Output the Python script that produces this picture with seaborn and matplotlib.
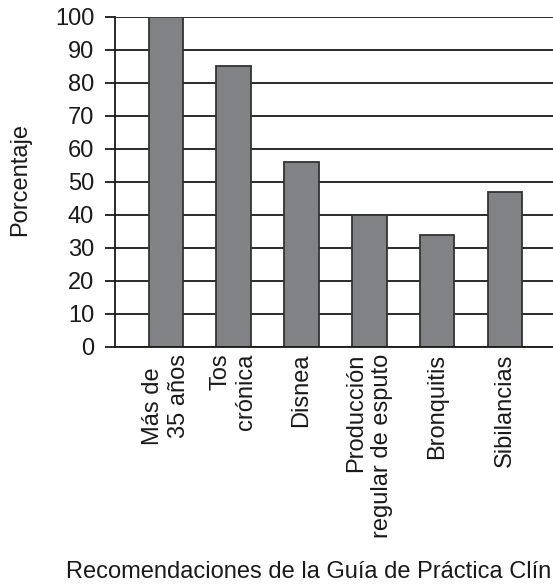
import pandas as pd
import seaborn as sns
import matplotlib.pyplot as plt

categories = ["Más de  \n35 años", "Tos\ncrónica", "Disnea",
              "Producción\nregular de esputo", "Bronquitis", "Sibilancias"]
porcentaje = [100, 85, 56, 40, 34, 47]
y_ticks = list(range(0, 101, 10))
# the source caption is cropped at the right edge of the figure
caption = 'Recomendaciones de la Guía de Práctica Clín'

sns.set_theme(style="white")
plt.rcParams['font.family'] = ['Liberation Sans', 'DejaVu Sans']

data = pd.DataFrame({'categoria': categories, 'porcentaje': porcentaje})

fig = plt.figure(figsize=(5.53, 5.84), dpi=100)
ax = fig.add_axes([0.208, 0.406, 0.792, 0.565])

ax.yaxis.grid(True, color='#1a1a1a', lw=1.3, zorder=0)
ax.set_axisbelow(True)
sns.barplot(data=data, x='categoria', y='porcentaje', color='#808285',
            saturation=1, width=0.51, edgecolor='#333333', linewidth=1.3,
            ax=ax, zorder=2)

ax.set_ylim(0, 100)
ax.set_xlim(-0.75, 5.71)
ax.set_yticks(y_ticks)
ax.tick_params(axis='y', labelsize=17, length=7, width=1.3, color='#1a1a1a',
               pad=8, left=True, direction='out', labelcolor='#1a1a1a')
ax.tick_params(axis='x', labelsize=17, length=0, pad=5, labelcolor='#1a1a1a')
for lbl in ax.get_xticklabels():
    lbl.set_rotation(90)
    lbl.set_va('top')
    lbl.set_ha('center')
    lbl.set_multialignment('right')

for side in ['top', 'right']:
    ax.spines[side].set_visible(False)
ax.spines['left'].set_color('#1a1a1a')
ax.spines['left'].set_linewidth(1.3)
ax.spines['bottom'].set_color('#1a1a1a')
ax.spines['bottom'].set_linewidth(1.3)

ax.set_xlabel('')
ax.set_ylabel('')
fig.text(20 / 553, 1 - 180 / 584, 'Porcentaje', rotation=90, fontsize=17,
         ha='center', va='center', color='#1a1a1a')
fig.text(66 / 553, 1 - 578 / 584, caption, fontsize=17,
         ha='left', va='baseline', color='#1a1a1a')

fig.savefig('out.png', dpi=100)
plt.close(fig)
